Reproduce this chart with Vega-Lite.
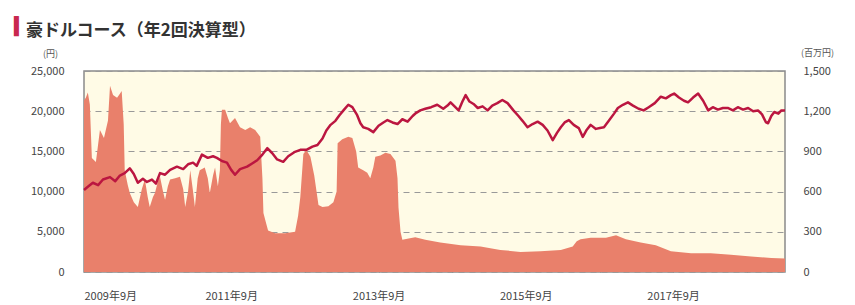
{
  "$schema": "https://vega.github.io/schema/vega-lite/v6.json",
  "width": 701,
  "height": 201,
  "autosize": "none",
  "padding": {"left": 84, "top": 71, "right": 70, "bottom": 33},
  "background": "white",
  "config": {
    "view": {"fill": "#fffbe6", "stroke": "#8a8a8a", "strokeWidth": 1.5},
    "font": "Noto Sans CJK JP"
  },
  "title": {
    "text": "▍",
    "subtitle": "\u200b\u2002\u2009豪ドルコース（年2回決算型）",
    "anchor": "start",
    "frame": "group",
    "dx": -70,
    "offset": 8,
    "fontSize": 17,
    "fontWeight": "bold",
    "color": "#c8284f",
    "font": "DejaVu Sans",
    "subtitleFont": "Noto Sans CJK JP",
    "subtitleFontSize": 17,
    "subtitleFontWeight": "bold",
    "subtitleColor": "#333333",
    "subtitlePadding": -13
  },
  "datasets": {
    "nav": [
      {"date": "2009-09-01", "nav": 10200}, {"date": "2009-09-20", "nav": 10600}, {"date": "2009-10-15", "nav": 11100},
      {"date": "2009-11-10", "nav": 10800}, {"date": "2009-12-04", "nav": 11500}, {"date": "2010-01-08", "nav": 11800},
      {"date": "2010-02-03", "nav": 11300}, {"date": "2010-02-26", "nav": 12000}, {"date": "2010-03-22", "nav": 12300},
      {"date": "2010-04-16", "nav": 12900}, {"date": "2010-05-06", "nav": 12200}, {"date": "2010-05-26", "nav": 11100},
      {"date": "2010-06-20", "nav": 11600}, {"date": "2010-07-10", "nav": 11200}, {"date": "2010-08-04", "nav": 11500},
      {"date": "2010-08-24", "nav": 11000}, {"date": "2010-09-13", "nav": 12300}, {"date": "2010-10-08", "nav": 12100},
      {"date": "2010-11-02", "nav": 12700}, {"date": "2010-12-06", "nav": 13100}, {"date": "2011-01-06", "nav": 12800},
      {"date": "2011-01-30", "nav": 13400}, {"date": "2011-02-24", "nav": 13600}, {"date": "2011-03-14", "nav": 13200},
      {"date": "2011-04-09", "nav": 14600}, {"date": "2011-05-08", "nav": 14200}, {"date": "2011-06-03", "nav": 14400},
      {"date": "2011-06-22", "nav": 14200}, {"date": "2011-07-17", "nav": 13800}, {"date": "2011-08-11", "nav": 13600},
      {"date": "2011-09-01", "nav": 12700}, {"date": "2011-09-20", "nav": 12100}, {"date": "2011-10-15", "nav": 12800},
      {"date": "2011-11-19", "nav": 13100}, {"date": "2011-12-14", "nav": 13500}, {"date": "2012-01-08", "nav": 13900},
      {"date": "2012-02-03", "nav": 14600}, {"date": "2012-02-27", "nav": 15400}, {"date": "2012-03-22", "nav": 14800},
      {"date": "2012-04-16", "nav": 14000}, {"date": "2012-05-16", "nav": 13700}, {"date": "2012-06-10", "nav": 14400},
      {"date": "2012-07-10", "nav": 14900}, {"date": "2012-08-09", "nav": 15200}, {"date": "2012-09-08", "nav": 15200},
      {"date": "2012-10-08", "nav": 15600}, {"date": "2012-11-02", "nav": 15800}, {"date": "2012-11-27", "nav": 16600},
      {"date": "2012-12-16", "nav": 17600}, {"date": "2013-01-06", "nav": 18300}, {"date": "2013-01-30", "nav": 18800},
      {"date": "2013-02-19", "nav": 19500}, {"date": "2013-03-14", "nav": 20200}, {"date": "2013-04-04", "nav": 20800},
      {"date": "2013-04-24", "nav": 20500}, {"date": "2013-05-18", "nav": 19500}, {"date": "2013-06-03", "nav": 18500},
      {"date": "2013-06-17", "nav": 18000}, {"date": "2013-07-12", "nav": 17800}, {"date": "2013-08-06", "nav": 17400},
      {"date": "2013-09-01", "nav": 18200}, {"date": "2013-09-25", "nav": 18600}, {"date": "2013-10-15", "nav": 18900},
      {"date": "2013-11-09", "nav": 18600}, {"date": "2013-12-04", "nav": 18400}, {"date": "2013-12-28", "nav": 19000},
      {"date": "2014-01-23", "nav": 18700}, {"date": "2014-02-17", "nav": 19400}, {"date": "2014-03-07", "nav": 19800},
      {"date": "2014-03-27", "nav": 20100}, {"date": "2014-04-21", "nav": 20300}, {"date": "2014-05-20", "nav": 20500},
      {"date": "2014-06-19", "nav": 20800}, {"date": "2014-07-19", "nav": 20300}, {"date": "2014-08-09", "nav": 20700},
      {"date": "2014-08-24", "nav": 21100}, {"date": "2014-09-13", "nav": 20600}, {"date": "2014-10-03", "nav": 20100},
      {"date": "2014-10-22", "nav": 21200}, {"date": "2014-11-07", "nav": 22000}, {"date": "2014-11-26", "nav": 21200},
      {"date": "2014-12-16", "nav": 20900}, {"date": "2015-01-06", "nav": 20400}, {"date": "2015-01-30", "nav": 20600},
      {"date": "2015-02-24", "nav": 20100}, {"date": "2015-03-19", "nav": 20700}, {"date": "2015-04-13", "nav": 21000},
      {"date": "2015-05-08", "nav": 21400}, {"date": "2015-06-03", "nav": 21000}, {"date": "2015-07-02", "nav": 20100},
      {"date": "2015-07-27", "nav": 19400}, {"date": "2015-08-16", "nav": 18800}, {"date": "2015-09-10", "nav": 18000},
      {"date": "2015-10-05", "nav": 18400}, {"date": "2015-10-30", "nav": 18700}, {"date": "2015-11-24", "nav": 18300},
      {"date": "2015-12-18", "nav": 17600}, {"date": "2016-01-13", "nav": 16400}, {"date": "2016-02-03", "nav": 17300},
      {"date": "2016-02-22", "nav": 18000}, {"date": "2016-03-12", "nav": 18600}, {"date": "2016-04-02", "nav": 18900},
      {"date": "2016-04-26", "nav": 18300}, {"date": "2016-05-21", "nav": 17900}, {"date": "2016-06-10", "nav": 16800},
      {"date": "2016-06-30", "nav": 17700}, {"date": "2016-07-19", "nav": 18300}, {"date": "2016-08-14", "nav": 17800},
      {"date": "2016-09-03", "nav": 17900}, {"date": "2016-09-23", "nav": 18000}, {"date": "2016-10-17", "nav": 18800},
      {"date": "2016-11-12", "nav": 19700}, {"date": "2016-12-01", "nav": 20400}, {"date": "2016-12-26", "nav": 20800},
      {"date": "2017-01-20", "nav": 21100}, {"date": "2017-02-14", "nav": 20700}, {"date": "2017-03-14", "nav": 20300},
      {"date": "2017-04-08", "nav": 20100}, {"date": "2017-05-03", "nav": 20500}, {"date": "2017-06-02", "nav": 21000},
      {"date": "2017-07-02", "nav": 21800}, {"date": "2017-07-27", "nav": 21600}, {"date": "2017-08-21", "nav": 22000},
      {"date": "2017-09-06", "nav": 22200}, {"date": "2017-09-30", "nav": 21700}, {"date": "2017-10-25", "nav": 21300},
      {"date": "2017-11-14", "nav": 21100}, {"date": "2017-12-09", "nav": 21700}, {"date": "2018-01-03", "nav": 22200},
      {"date": "2018-01-28", "nav": 21300}, {"date": "2018-02-22", "nav": 20100}, {"date": "2018-03-17", "nav": 20500},
      {"date": "2018-04-11", "nav": 20200}, {"date": "2018-05-06", "nav": 20400}, {"date": "2018-05-30", "nav": 20400},
      {"date": "2018-06-25", "nav": 20100}, {"date": "2018-07-19", "nav": 20500}, {"date": "2018-08-14", "nav": 20200},
      {"date": "2018-09-08", "nav": 20400}, {"date": "2018-10-03", "nav": 20000}, {"date": "2018-10-27", "nav": 20100},
      {"date": "2018-11-16", "nav": 19600}, {"date": "2018-12-06", "nav": 18600}, {"date": "2018-12-16", "nav": 18500},
      {"date": "2019-01-01", "nav": 19400}, {"date": "2019-01-16", "nav": 19900}, {"date": "2019-02-05", "nav": 19700},
      {"date": "2019-02-20", "nav": 20100}, {"date": "2019-03-10", "nav": 20100}
    ],
    "assets": [
      {"date": "2009-09-01", "assets": 1280}, {"date": "2009-09-10", "assets": 1300}, {"date": "2009-09-20", "assets": 1340},
      {"date": "2009-09-30", "assets": 1250}, {"date": "2009-10-10", "assets": 850}, {"date": "2009-10-30", "assets": 820},
      {"date": "2009-11-19", "assets": 1060}, {"date": "2009-12-09", "assets": 1000}, {"date": "2009-12-29", "assets": 1130},
      {"date": "2010-01-08", "assets": 1390}, {"date": "2010-01-23", "assets": 1320}, {"date": "2010-02-12", "assets": 1300},
      {"date": "2010-02-26", "assets": 1330}, {"date": "2010-03-07", "assets": 1350}, {"date": "2010-03-17", "assets": 1100},
      {"date": "2010-03-22", "assets": 760}, {"date": "2010-04-06", "assets": 650}, {"date": "2010-04-16", "assets": 590},
      {"date": "2010-05-06", "assets": 520}, {"date": "2010-05-26", "assets": 485}, {"date": "2010-06-15", "assets": 620},
      {"date": "2010-06-30", "assets": 690}, {"date": "2010-07-14", "assets": 560}, {"date": "2010-07-24", "assets": 485},
      {"date": "2010-08-09", "assets": 560}, {"date": "2010-08-19", "assets": 590}, {"date": "2010-09-03", "assets": 680},
      {"date": "2010-09-13", "assets": 710}, {"date": "2010-09-28", "assets": 600}, {"date": "2010-10-08", "assets": 540},
      {"date": "2010-10-22", "assets": 640}, {"date": "2010-11-02", "assets": 690}, {"date": "2010-11-27", "assets": 700},
      {"date": "2010-12-21", "assets": 710}, {"date": "2011-01-06", "assets": 620}, {"date": "2011-01-16", "assets": 485},
      {"date": "2011-01-30", "assets": 600}, {"date": "2011-02-10", "assets": 760}, {"date": "2011-02-24", "assets": 600},
      {"date": "2011-03-05", "assets": 485}, {"date": "2011-03-19", "assets": 700}, {"date": "2011-03-29", "assets": 760},
      {"date": "2011-04-23", "assets": 780}, {"date": "2011-05-08", "assets": 700}, {"date": "2011-05-18", "assets": 590},
      {"date": "2011-06-03", "assets": 720}, {"date": "2011-06-13", "assets": 780}, {"date": "2011-06-27", "assets": 640},
      {"date": "2011-07-07", "assets": 760}, {"date": "2011-07-12", "assets": 1100}, {"date": "2011-07-17", "assets": 1210},
      {"date": "2011-08-02", "assets": 1210}, {"date": "2011-08-16", "assets": 1150}, {"date": "2011-08-26", "assets": 1110},
      {"date": "2011-09-20", "assets": 1150}, {"date": "2011-10-15", "assets": 1080}, {"date": "2011-11-10", "assets": 1060},
      {"date": "2011-12-04", "assets": 1080}, {"date": "2011-12-29", "assets": 1060}, {"date": "2012-01-23", "assets": 1010},
      {"date": "2012-02-03", "assets": 700}, {"date": "2012-02-08", "assets": 440}, {"date": "2012-02-22", "assets": 360},
      {"date": "2012-03-02", "assets": 310}, {"date": "2012-04-06", "assets": 290}, {"date": "2012-05-26", "assets": 290},
      {"date": "2012-07-14", "assets": 300}, {"date": "2012-07-29", "assets": 420}, {"date": "2012-08-09", "assets": 560},
      {"date": "2012-08-24", "assets": 880}, {"date": "2012-09-08", "assets": 910}, {"date": "2012-09-28", "assets": 860},
      {"date": "2012-10-17", "assets": 720}, {"date": "2012-11-07", "assets": 500}, {"date": "2012-11-27", "assets": 485},
      {"date": "2012-12-26", "assets": 490}, {"date": "2013-01-20", "assets": 520}, {"date": "2013-02-05", "assets": 600},
      {"date": "2013-02-10", "assets": 960}, {"date": "2013-03-05", "assets": 990}, {"date": "2013-04-04", "assets": 1010},
      {"date": "2013-04-24", "assets": 1000}, {"date": "2013-05-13", "assets": 900}, {"date": "2013-05-23", "assets": 780},
      {"date": "2013-06-17", "assets": 760}, {"date": "2013-07-07", "assets": 740}, {"date": "2013-07-22", "assets": 700},
      {"date": "2013-08-06", "assets": 780}, {"date": "2013-08-16", "assets": 860}, {"date": "2013-09-10", "assets": 870},
      {"date": "2013-10-05", "assets": 890}, {"date": "2013-10-30", "assets": 880}, {"date": "2013-11-24", "assets": 830},
      {"date": "2013-12-04", "assets": 700}, {"date": "2013-12-09", "assets": 480}, {"date": "2013-12-19", "assets": 300},
      {"date": "2013-12-28", "assets": 240}, {"date": "2014-01-28", "assets": 250}, {"date": "2014-03-02", "assets": 260},
      {"date": "2014-04-21", "assets": 240}, {"date": "2014-07-04", "assets": 220}, {"date": "2014-10-13", "assets": 200},
      {"date": "2015-01-20", "assets": 190}, {"date": "2015-04-28", "assets": 165}, {"date": "2015-08-06", "assets": 150},
      {"date": "2015-11-14", "assets": 155}, {"date": "2016-02-22", "assets": 165}, {"date": "2016-04-21", "assets": 190},
      {"date": "2016-05-11", "assets": 230}, {"date": "2016-05-30", "assets": 245}, {"date": "2016-07-19", "assets": 255},
      {"date": "2016-10-03", "assets": 255}, {"date": "2016-11-22", "assets": 275}, {"date": "2016-12-16", "assets": 260},
      {"date": "2017-01-10", "assets": 245}, {"date": "2017-03-24", "assets": 220}, {"date": "2017-06-07", "assets": 200},
      {"date": "2017-08-21", "assets": 155}, {"date": "2017-11-29", "assets": 140}, {"date": "2018-03-07", "assets": 140},
      {"date": "2018-06-15", "assets": 128}, {"date": "2018-09-23", "assets": 115}, {"date": "2019-01-01", "assets": 105},
      {"date": "2019-03-10", "assets": 100}
    ]
  },
  "layer": [
    {
      "data": {"name": "assets"},
      "mark": {"type": "area", "color": "#e9806b", "opacity": 1},
      "encoding": {
        "x": {
          "field": "date",
          "type": "temporal",
          "scale": {
            "type": "utc",
            "domain": [
              {"year": 2009, "month": 9, "date": 1, "utc": true},
              {"year": 2019, "month": 3, "date": 10, "utc": true}
            ]
          },
          "axis": {
            "title": null,
            "values": [
              {"year": 2009, "month": 9, "date": 1, "utc": true},
              {"year": 2010, "month": 9, "date": 1, "utc": true},
              {"year": 2011, "month": 9, "date": 1, "utc": true},
              {"year": 2012, "month": 9, "date": 1, "utc": true},
              {"year": 2013, "month": 9, "date": 1, "utc": true},
              {"year": 2014, "month": 9, "date": 1, "utc": true},
              {"year": 2015, "month": 9, "date": 1, "utc": true},
              {"year": 2016, "month": 9, "date": 1, "utc": true},
              {"year": 2017, "month": 9, "date": 1, "utc": true},
              {"year": 2018, "month": 9, "date": 1, "utc": true}
            ],
            "labelExpr": "utcyear(datum.value) % 2 == 1 ? utcFormat(datum.value, '%Y年%-m月') : ''",
            "grid": false,
            "domain": false,
            "ticks": true,
            "tickSize": -4,
            "tickColor": "#888888",
            "labelPadding": 22,
            "labelFontSize": 11,
            "labelColor": "#444444",
            "labelFont": "Noto Sans CJK JP",
            "labelOverlap": false
          }
        },
        "y": {
          "field": "assets",
          "type": "quantitative",
          "scale": {"domain": [0, 1500], "nice": false, "zero": true},
          "axis": {
            "orient": "right",
            "values": [0, 300, 600, 900, 1200, 1500],
            "format": ",d",
            "grid": false,
            "domain": false,
            "ticks": false,
            "labelPadding": 18,
            "labelFontSize": 11,
            "labelColor": "#444444",
            "labelFont": "Noto Sans CJK JP",
            "title": "(百万円)",
            "titleAngle": 0,
            "titleX": 32,
            "titleY": -19,
            "titleAlign": "center",
            "titleBaseline": "middle",
            "titleFontSize": 9,
            "titleFontWeight": "normal",
            "titleColor": "#555555",
            "titleFont": "Noto Sans CJK JP"
          }
        }
      }
    },
    {
      "data": {"name": "nav"},
      "mark": {"type": "line", "color": "#bb1640", "strokeWidth": 2.5, "strokeJoin": "round"},
      "encoding": {
        "x": {"field": "date", "type": "temporal"},
        "y": {
          "field": "nav",
          "type": "quantitative",
          "scale": {"domain": [0, 25000], "nice": false, "zero": true},
          "axis": {
            "orient": "left",
            "values": [0, 5000, 10000, 15000, 20000, 25000],
            "format": ",d",
            "grid": true,
            "gridDash": [6, 5],
            "gridColor": "#999999",
            "gridWidth": 1,
            "domain": false,
            "ticks": false,
            "labelPadding": 20,
            "labelFontSize": 11,
            "labelColor": "#444444",
            "labelFont": "Noto Sans CJK JP",
            "title": "(円)",
            "titleAngle": 0,
            "titleX": -34,
            "titleY": -18,
            "titleAlign": "center",
            "titleBaseline": "middle",
            "titleFontSize": 9,
            "titleFontWeight": "normal",
            "titleColor": "#555555",
            "titleFont": "Noto Sans CJK JP"
          }
        }
      }
    }
  ],
  "resolve": {"scale": {"y": "independent"}}
}
